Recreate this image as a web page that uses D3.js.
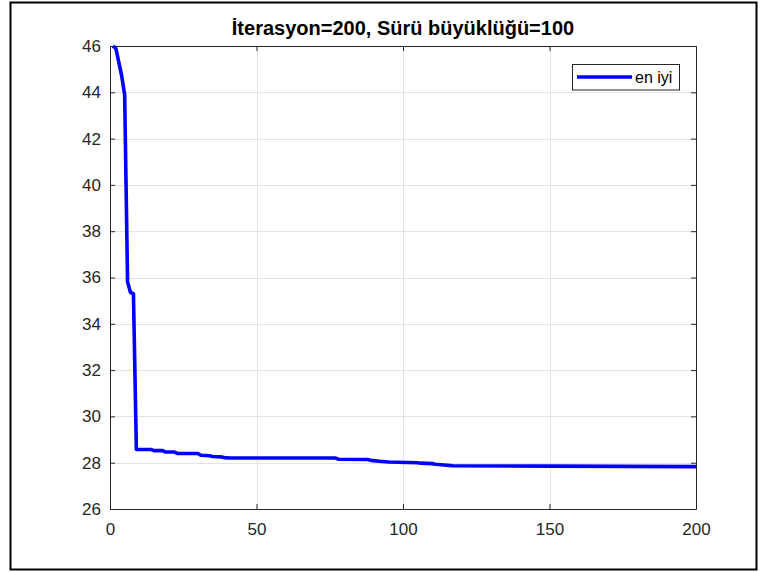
<!DOCTYPE html>
<html>
<head>
<meta charset="utf-8">
<script src="https://cdn.jsdelivr.net/npm/d3@7"></script>
<style>
  html, body { margin: 0; padding: 0; background: #fff; }
  svg { display: block; font-family: "Liberation Sans", Arial, Helvetica, sans-serif; }
</style>
</head>
<body>
<svg id="chart" width="760" height="572"></svg>
<script>
// ---- data ----
const chartTitle = "İterasyon=200, Sürü büyüklüğü=100";
const legendLabel = "en iyi";
const iterations = [1, 2, 3, 4, 5, 6, 7, 8, 9, 14, 15, 18, 19, 22, 23, 30, 31, 34, 35, 38, 39, 41, 77, 78, 88, 89, 92, 95, 105, 106, 110, 111, 114, 116, 117, 150, 200];
const bestValues = [46.0, 45.9, 45.3, 44.7, 43.9, 35.8, 35.35, 35.3, 28.57, 28.57, 28.52, 28.52, 28.46, 28.46, 28.4, 28.4, 28.32, 28.3, 28.27, 28.25, 28.22, 28.2, 28.2, 28.15, 28.14, 28.1, 28.06, 28.03, 28.0, 27.98, 27.96, 27.93, 27.9, 27.88, 27.87, 27.85, 27.83];
const xTicks = [0, 50, 100, 150, 200];
const yTicks = [26, 28, 30, 32, 34, 36, 38, 40, 42, 44, 46];
const xDomain = [0, 200];
const yDomain = [26, 46];

// ---- layout ----
const svg = d3.select("#chart");
const L = 110, R = 696, T = 46, B = 509;
const axisColor = "#262626";

const x = d3.scaleLinear().domain(xDomain).range([L, R]);
const y = d3.scaleLinear().domain(yDomain).range([B, T]);

// outer frame
svg.append("rect").attr("x", 10.5).attr("y", 2.5).attr("width", 746).attr("height", 567)
  .attr("fill", "#fff").attr("stroke", "#000").attr("stroke-width", 2);

// plot background
svg.append("rect").attr("x", L).attr("y", T).attr("width", R - L).attr("height", B - T).attr("fill", "#fff");

// grid
const grid = svg.append("g").attr("stroke", "#e3e3e3").attr("stroke-width", 1);
grid.selectAll(".gx").data(xTicks).join("line")
  .attr("x1", d => Math.round(x(d)) + 0.5).attr("x2", d => Math.round(x(d)) + 0.5)
  .attr("y1", T).attr("y2", B);
grid.selectAll(".gy").data(yTicks).join("line")
  .attr("x1", L).attr("x2", R)
  .attr("y1", d => Math.round(y(d)) + 0.5).attr("y2", d => Math.round(y(d)) + 0.5);

// axes (bottom / left with labels, top / right for box)
const fontSize = 17;
const xAxis = svg.append("g").attr("transform", `translate(0,${B})`)
  .call(d3.axisBottom(x).tickValues(xTicks).tickSizeInner(-5).tickSizeOuter(0).tickPadding(14));
const yAxis = svg.append("g").attr("transform", `translate(${L},0)`)
  .call(d3.axisLeft(y).tickValues(yTicks).tickSizeInner(-5).tickSizeOuter(0).tickPadding(9));
const xAxisTop = svg.append("g").attr("transform", `translate(0,${T})`)
  .call(d3.axisTop(x).tickValues(xTicks).tickSizeInner(-5).tickSizeOuter(0).tickFormat(""));
const yAxisRight = svg.append("g").attr("transform", `translate(${R},0)`)
  .call(d3.axisRight(y).tickValues(yTicks).tickSizeInner(-5).tickSizeOuter(0).tickFormat(""));

[xAxis, yAxis, xAxisTop, yAxisRight].forEach(g => {
  g.select(".domain").attr("stroke", axisColor).attr("stroke-width", 1);
  g.selectAll(".tick line").attr("stroke", axisColor);
  g.selectAll(".tick text").attr("fill", axisColor)
    .attr("font-size", fontSize).attr("font-family", "Liberation Sans, Arial, sans-serif");
});

// clip
svg.append("clipPath").attr("id", "clip").append("rect")
  .attr("x", L).attr("y", T - 3).attr("width", R - L).attr("height", B - T + 6);

// line
const pts = iterations.map((it, i) => [it, bestValues[i]]);
svg.append("path").datum(pts)
  .attr("clip-path", "url(#clip)")
  .attr("fill", "none").attr("stroke", "#0000ff").attr("stroke-width", 3.6)
  .attr("stroke-linejoin", "round")
  .attr("d", d3.line().x(d => x(d[0])).y(d => y(d[1])));

// title
svg.append("text").attr("x", (L + R) / 2).attr("y", 35)
  .attr("text-anchor", "middle").attr("font-weight", "bold").attr("font-size", 20)
  .attr("fill", "#000").text(chartTitle);

// legend
const lg = svg.append("g");
lg.append("rect").attr("x", 572.5).attr("y", 64.5).attr("width", 107).attr("height", 25.5)
  .attr("fill", "#fff").attr("stroke", axisColor).attr("stroke-width", 1);
lg.append("line").attr("x1", 577).attr("x2", 632).attr("y1", 77).attr("y2", 77)
  .attr("stroke", "#0000ff").attr("stroke-width", 3.6);
lg.append("text").attr("x", 635).attr("y", 82.5).attr("font-size", 16)
  .attr("fill", "#000").text(legendLabel);
</script>
</body>
</html>
